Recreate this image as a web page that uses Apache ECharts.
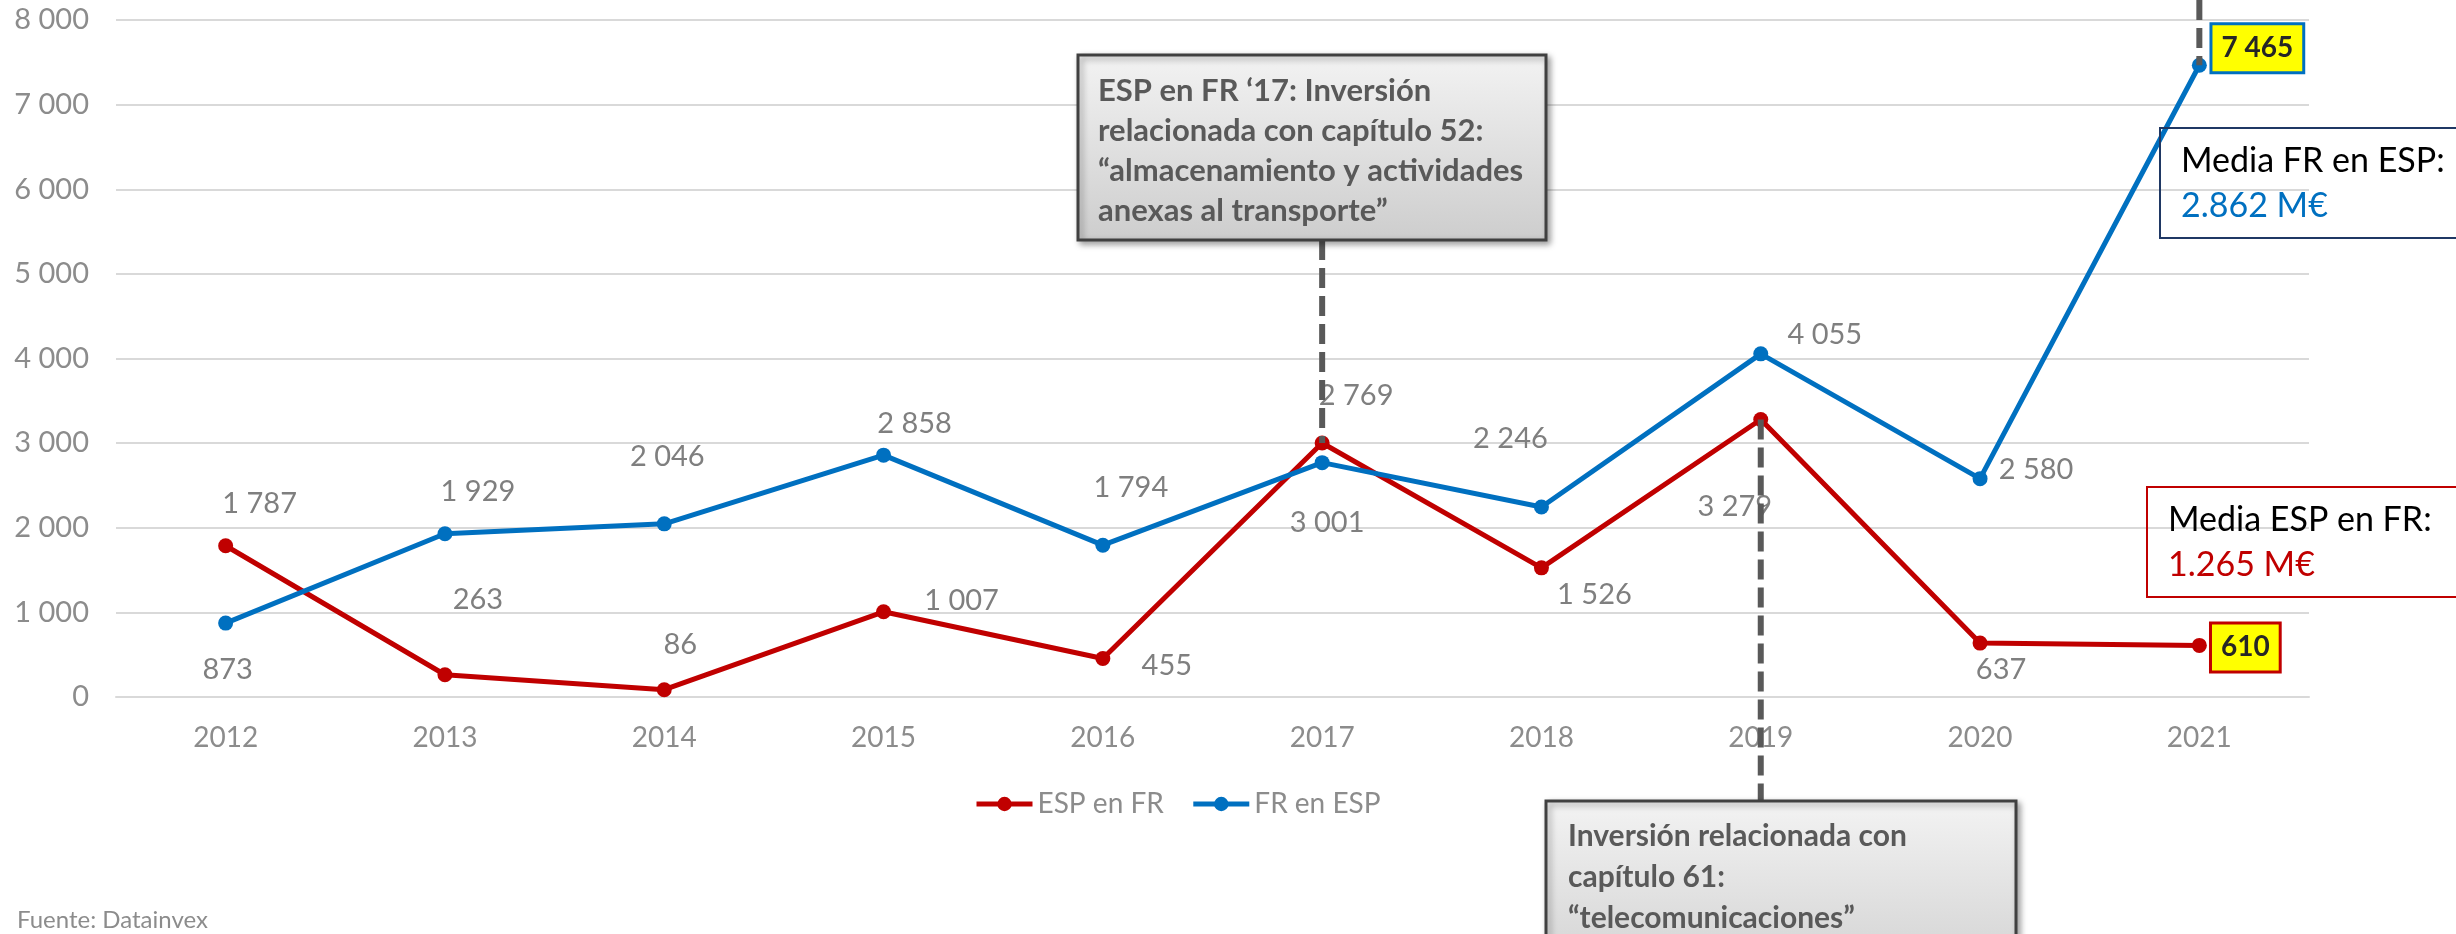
<!DOCTYPE html>
<html><head><meta charset="utf-8">
<script src="https://cdn.jsdelivr.net/npm/echarts@6/dist/echarts.min.js"></script>
<style>html,body{margin:0;padding:0;background:#fff}#c{width:2456px;height:934px}</style>
</head><body><div id="c"></div>
<script>
// ---------- data ----------
const years = ['2012','2013','2014','2015','2016','2017','2018','2019','2020','2021'];
const espEnFr = [1787, 263, 86, 1007, 455, 3001, 1526, 3279, 637, 610];
const frEnEsp = [873, 1929, 2046, 2858, 1794, 2769, 2246, 4055, 2580, 7465];
const seriesNames = ['ESP en FR', 'FR en ESP'];
const yMin = 0, yMax = 8000, yStep = 1000;
const annotTop = ['ESP en FR ‘17: Inversión', 'relacionada con capítulo 52:', '“almacenamiento y actividades', 'anexas al transporte”'];
const annotBottom = ['Inversión relacionada con', 'capítulo 61:', '“telecomunicaciones”'];
const mediaFr = ['Media FR en ESP:', '2.862 M€'];
const mediaEsp = ['Media ESP en FR:', '1.265 M€'];
const sourceText = 'Fuente: Datainvex';

// label offsets in px (layout, not data)
const espLabelOffsets = [[34,-42],[33,-75],[16,-45],[78,-11],[64,7],[5,80],[53,27],[-26,87],[21,27],[46,2]];
const frLabelOffsets  = [[2,47],[33,-42],[3,-67],[31,-32],[28,-58],[34,-67],[-31,-68],[64,-19],[56,-9],[58,-17]];

const RED = '#c00000', BLUE = '#0070c0';
const FONT = 'Lato';
const fmt = v => String(v).replace(/\B(?=(\d{3})+(?!\d))/g, ' ');

function buildData(values, offsets, color) {
  return values.map((v, i) => {
    const item = { value: v, label: { offset: offsets[i] } };
    if (i === values.length - 1) {
      Object.assign(item.label, {
        backgroundColor: '#ffff00', borderColor: color, borderWidth: 3,
        padding: [10, 9, 8, 9], fontWeight: 'bold', color: '#262626', fontSize: 28
      });
    }
    return item;
  });
}

function mkSeries(name, values, offsets, color) {
  return {
    name, type: 'line', clip: false,
    data: buildData(values, offsets, color),
    symbol: 'circle', symbolSize: 15,
    lineStyle: { color, width: 5 },
    itemStyle: { color },
    label: {
      show: true, position: 'inside', fontFamily: FONT, fontSize: 29, color: '#7f7f7f',
      formatter: p => fmt(p.value)
    },
    emphasis: { disabled: true }
  };
}

const chart = echarts.init(document.getElementById('c'), null, { renderer: 'canvas' });
chart.setOption({
  animation: false,
  backgroundColor: '#fff',
  textStyle: { fontFamily: FONT },
  grid: { left: 116, right: 147, top: 20, bottom: 237, containLabel: false },
  legend: {
    data: seriesNames, left: 969, top: 785, itemWidth: 56, itemHeight: 18, itemGap: 27,
    lineStyle: { width: 5 },
    textStyle: { fontFamily: FONT, fontSize: 28, color: '#8c8c8c' }
  },
  xAxis: {
    type: 'category', data: years, boundaryGap: true,
    axisLine: { show: true, lineStyle: { color: '#d9d9d9', width: 2 } },
    axisTick: { show: false },
    axisLabel: { fontFamily: FONT, fontSize: 28, color: '#8c8c8c', margin: 27 }
  },
  yAxis: {
    type: 'value', min: yMin, max: yMax, interval: yStep,
    axisLine: { show: false }, axisTick: { show: false },
    splitLine: { lineStyle: { color: '#d9d9d9', width: 2 } },
    axisLabel: { fontFamily: FONT, fontSize: 29, color: '#8c8c8c', margin: 27, formatter: v => fmt(v) }
  },
  series: [
    mkSeries(seriesNames[0], espEnFr, espLabelOffsets, RED),
    mkSeries(seriesNames[1], frEnEsp, frLabelOffsets, BLUE)
  ]
});

// ---------- annotations, anchored to data points ----------
const px = (s, i, v) => chart.convertToPixel({ seriesIndex: s }, [i, v]);
const p2017 = px(0, 5, espEnFr[5]);
const p2019 = px(0, 7, espEnFr[7]);
const p2021 = px(1, 9, frEnEsp[9]);

const dash = { stroke: '#595959', lineWidth: 6, lineDash: [20, 8] };
const grad = new echarts.graphic.LinearGradient(0, 0, 0, 1, [
  { offset: 0, color: '#f3f3f3' }, { offset: 1, color: '#cdcdcd' }
]);
const boxStyle = { fill: grad, stroke: '#404040', lineWidth: 3,
  shadowBlur: 6, shadowOffsetX: 3, shadowOffsetY: 3, shadowColor: 'rgba(0,0,0,0.35)' };

const boxA = { x: 1078, y: 55, w: 468, h: 185 };
const boxB = { x: 1546, y: 801, w: 470, h: 200 };

chart.setOption({
  graphic: [
    { type: 'line', z: 50, shape: { x1: p2017[0], y1: boxA.y + boxA.h, x2: p2017[0], y2: p2017[1] }, style: dash },
    { type: 'line', z: 50, shape: { x1: p2019[0], y1: p2019[1], x2: p2019[0], y2: boxB.y }, style: dash },
    { type: 'line', z: 50, shape: { x1: p2021[0], y1: 0, x2: p2021[0], y2: p2021[1] }, style: dash },
    { type: 'rect', z: 60, shape: { x: boxA.x, y: boxA.y, width: boxA.w, height: boxA.h }, style: boxStyle },
    { type: 'text', z: 61, x: boxA.x + 20, y: boxA.y + 16,
      style: { text: annotTop.join('\n'), font: 'bold 31px ' + FONT, fill: '#595959', lineHeight: 40, verticalAlign: 'top' } },
    { type: 'rect', z: 60, shape: { x: boxB.x, y: boxB.y, width: boxB.w, height: boxB.h }, style: boxStyle },
    { type: 'text', z: 61, x: boxB.x + 22, y: boxB.y + 15,
      style: { text: annotBottom.join('\n'), font: 'bold 30px ' + FONT, fill: '#595959', lineHeight: 41, verticalAlign: 'top' } },

    { type: 'rect', z: 60, shape: { x: 2160, y: 128, width: 400, height: 110 }, style: { fill: 'rgba(255,255,255,0)', stroke: '#1f3864', lineWidth: 2 } },
    { type: 'text', z: 61, x: 2181, y: 161, style: { text: mediaFr[0], font: '34px ' + FONT, fill: '#000', verticalAlign: 'middle' } },
    { type: 'text', z: 61, x: 2181, y: 206, style: { text: mediaFr[1], font: '34px ' + FONT, fill: BLUE, verticalAlign: 'middle' } },

    { type: 'rect', z: 60, shape: { x: 2147, y: 487, width: 400, height: 110 }, style: { fill: 'rgba(255,255,255,0)', stroke: RED, lineWidth: 2 } },
    { type: 'text', z: 61, x: 2168, y: 520, style: { text: mediaEsp[0], font: '34px ' + FONT, fill: '#000', verticalAlign: 'middle' } },
    { type: 'text', z: 61, x: 2168, y: 565, style: { text: mediaEsp[1], font: '34px ' + FONT, fill: RED, verticalAlign: 'middle' } },

    { type: 'text', z: 61, x: 17, y: 920, style: { text: sourceText, font: '24px ' + FONT, fill: '#8c8c8c', verticalAlign: 'middle' } }
  ]
});
</script></body></html>
